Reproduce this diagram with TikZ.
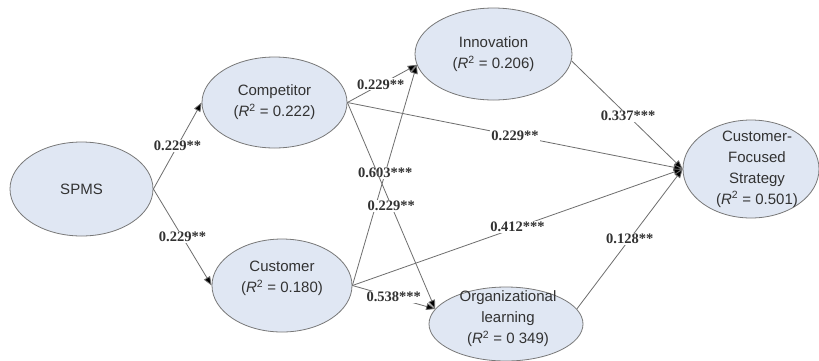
\documentclass[tikz,border=0pt]{standalone}
\usepackage{fontspec}
\setmainfont{Liberation Serif}
\newfontfamily\nodefont{Liberation Sans}
\usetikzlibrary{shapes.geometric,arrows.meta}
\definecolor{ellfill}{RGB}{224,231,243}
\definecolor{ellborder}{RGB}{120,120,120}
\definecolor{linegray}{RGB}{110,110,110}
\definecolor{txtgray}{RGB}{50,50,50}
\tikzset{
  ell/.style={ellipse, draw=ellborder, fill=ellfill, line width=0.8pt, inner sep=0pt},
  txt/.style={align=center, text=txtgray, font=\nodefont\fontsize{15}{21}\selectfont, inner sep=0pt},
  path/.style={draw=linegray, line width=0.8pt, -{Triangle[length=9pt,width=7pt,fill=black]}},
  coef/.style={text=txtgray, font=\bfseries\fontsize{14.5}{15}\selectfont, fill=white, inner sep=1pt}
}
\newcommand{\rsq}[1]{(\textit{R}\textsuperscript{2} = #1)}
\begin{document}
\begin{tikzpicture}[x=1pt,y=-1pt]
\useasboundingbox (0,0) rectangle (819,360);
\fill[white] (0,0) rectangle (819,360);
% ellipses
\node[ell, minimum width=143pt, minimum height=94pt] (spms) at (81.5,189) {};
\node[ell, minimum width=145pt, minimum height=91pt] (comp) at (274.5,102.5) {};
\node[ell, minimum width=140pt, minimum height=93pt] (cust) at (282,285.5) {};
\node[ell, minimum width=157pt, minimum height=92pt] (inno) at (493.5,54) {};
\node[ell, minimum width=154pt, minimum height=74pt] (org) at (506,324) {};
\node[ell, minimum width=136pt, minimum height=98pt] (cfs) at (751,169) {};
% texts
\node[txt] (spmst) at (spms) {SPMS};
\node[txt] (compt) at (comp) {Competitor\\\rsq{0.222}};
\node[txt, yshift=7pt] (custt) at (cust) {Customer\\\rsq{0.180}};
\node[txt] (innot) at (inno) {Innovation\\\rsq{0.206}};
\node[txt, xshift=2pt, yshift=5pt] (orgt) at (org) {Organizational\\learning\\(\textit{R}\textsuperscript{2} =\ 0 349)};
\node[txt, xshift=6pt] (cfst) at (cfs) {Customer-\\Focused\\Strategy\\\rsq{0.501}};
% paths
\draw[path] (spms.east) -- node[coef, pos=0.5]{0.229**} (comp.west);
\draw[path] (spms.east) -- node[coef, pos=0.5]{0.229**} (cust.west);
\draw[path] (comp.east) -- node[coef, pos=0.48]{0.229**} (inno.188);
\draw[path] (cust.east) -- node[coef, pos=0.51]{0.603***} (inno.188);
\draw[path] (comp.east) -- node[coef, pos=0.5]{0.229**} (org.168);
\draw[path] (cust.east) -- node[coef, pos=0.5]{0.538***} (org.168);
\draw[path] (comp.east) -- node[coef, pos=0.5]{0.229**} (cfs.west);
\draw[path] (cust.east) -- node[coef, pos=0.5]{0.412***} (cfs.west);
\draw[path] (inno.-5) -- node[coef, pos=0.51]{0.337***} (cfs.west);
\draw[path] (org.12) -- node[coef, pos=0.5]{0.128**} (cfs.west);
\end{tikzpicture}
\end{document}
